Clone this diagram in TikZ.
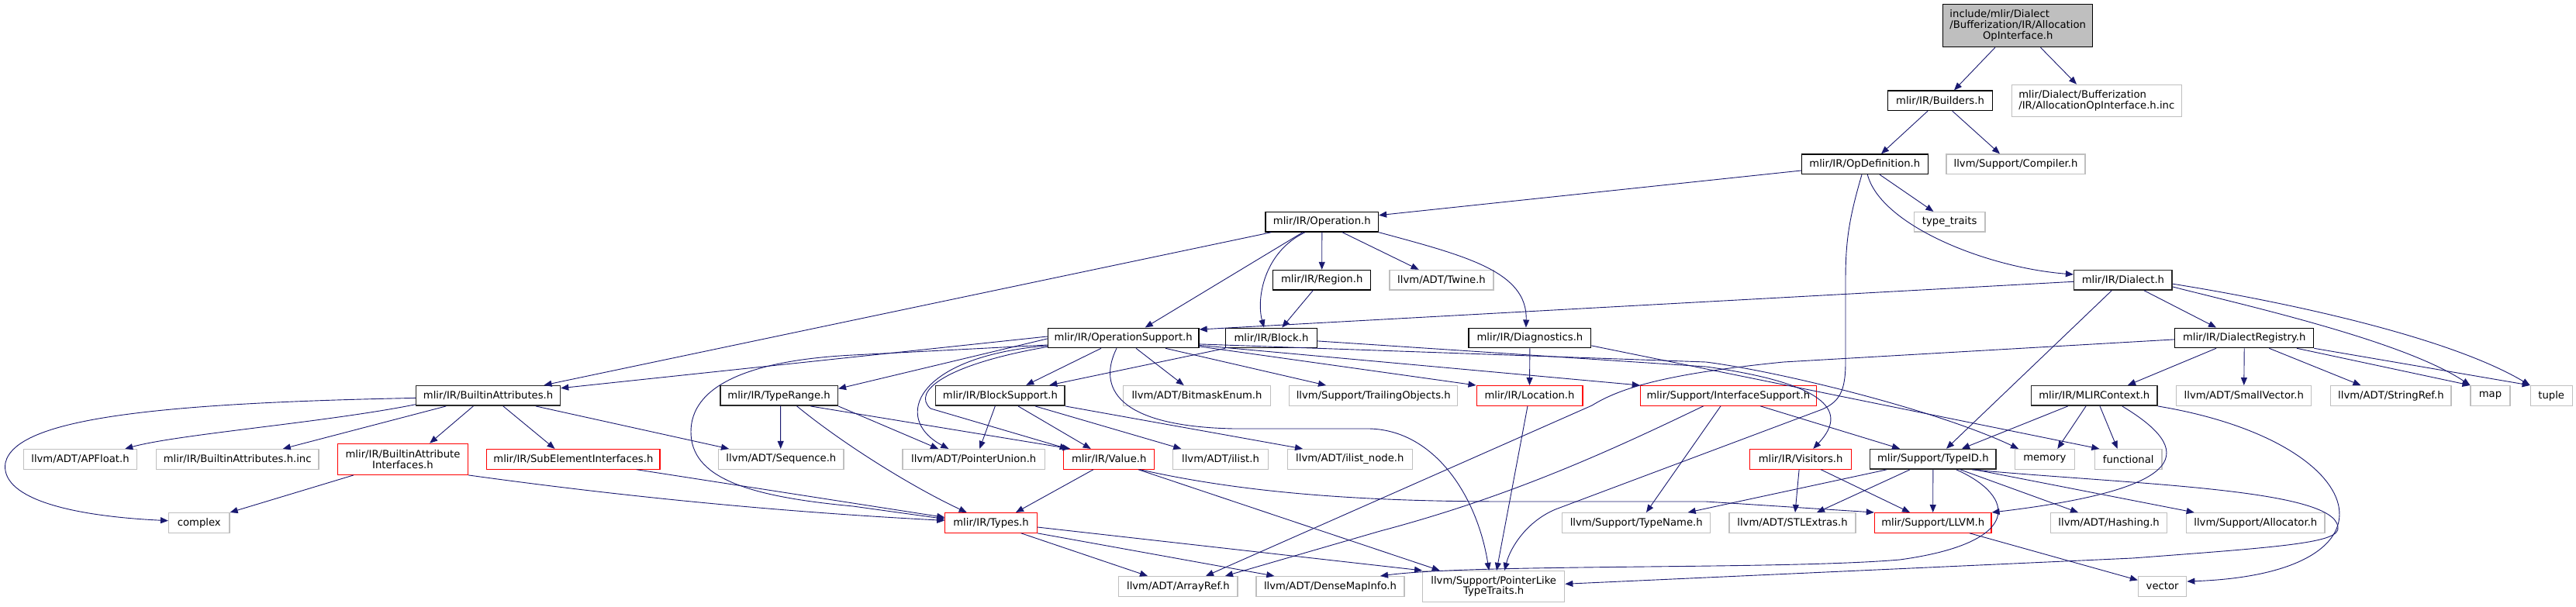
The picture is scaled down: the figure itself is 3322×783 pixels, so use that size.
\documentclass[tikz,border=0pt]{standalone}
\usepackage{fontspec}
\setmainfont{DejaVu Sans}
\usetikzlibrary{arrows.meta,positioning}
\definecolor{edgeBlue}{RGB}{25,25,112}
\definecolor{rootGray}{RGB}{191,191,191}
\definecolor{sysBorder}{RGB}{191,191,191}
\definecolor{linkBorder}{RGB}{40,40,40}
\definecolor{cutRed}{RGB}{255,0,0}
\newcommand{\dotfont}{\fontsize{13.2}{13.6}\selectfont}
\tikzset{
  filebox/.style={draw=#1, fill=white, line width=1.2pt, inner xsep=0pt, inner ysep=0pt,
    minimum height=25.6pt, align=center, font=\dotfont},
  hbox/.style={filebox=black},
  lbox/.style={filebox=linkBorder, line width=1.5pt},
  gbox/.style={filebox=sysBorder},
  rbox/.style={filebox=cutRed},
  topbox/.style={filebox=black, fill=rootGray, minimum height=55pt},
  arr/.style={-{Triangle[length=10pt,width=8pt]}, line width=0.9pt, color=edgeBlue},
}

\begin{document}
\begin{tikzpicture}[x=1pt, y=-1pt]

\fill[white] (0,0) rectangle (3322,783);
\useasboundingbox (0,0) rectangle (3322,783);

%% ROOT
\node[topbox, minimum width=193.2pt] (top) at (2602.2,33.2)
  {\begin{tabular}{@{}l@{}}include/mlir/Dialect\\/Bufferization/IR/Allocation\\\multicolumn{1}{@{}c@{}}{OpInterface.h}\end{tabular}};

%% ROW 1
\node[hbox, minimum width=134.6pt] (builders) at (2502,129.8) {mlir/IR/Builders.h};
\node[gbox, minimum width=219pt, minimum height=41pt, align=left] (allocInc) at (2703.8,129.8)
  {mlir/Dialect/Bufferization\\/IR/AllocationOpInterface.h.inc};

%% ROW 2
\node[hbox, minimum width=162.6pt] (opDef) at (2404.8,211.8) {mlir/IR/OpDefinition.h};
\node[gbox, minimum width=179pt] (compiler) at (2599.5,211.8) {llvm/Support/Compiler.h};

%% ROW 3
\node[hbox, minimum width=145.5pt] (operation) at (1704.8,286.3) {mlir/IR/Operation.h};
\node[gbox, minimum width=91.8pt] (typeTraits) at (2514.1,286.3) {type\_traits};

%% ROW 4
\node[hbox, minimum width=126pt] (region) at (1704.7,361.2) {mlir/IR/Region.h};
\node[gbox, minimum width=134pt] (twine) at (1859,361.2) {llvm/ADT/Twine.h};
\node[lbox, minimum width=126.6pt] (dialect) at (2737.9,361.2) {mlir/IR/Dialect.h};

%% ROW 5
\node[hbox, minimum width=194.7pt] (opSupport) at (1448.7,435.9) {mlir/IR/OperationSupport.h};
\node[hbox, minimum width=117.4pt] (block) at (1639.5,435.9) {mlir/IR/Block.h};
\node[hbox, minimum width=157.7pt] (diagnostics) at (1972.9,435.9) {mlir/IR/Diagnostics.h};
\node[hbox, minimum width=178.9pt] (dialectReg) at (2894.2,435.9) {mlir/IR/DialectRegistry.h};

%% ROW 6
\node[lbox, minimum width=185.8pt] (builtinAttr) at (629.6,510.4) {mlir/IR/BuiltinAttributes.h};
\node[lbox, minimum width=151.5pt] (typeRange) at (1004.6,510.4) {mlir/IR/TypeRange.h};
\node[lbox, minimum width=166.4pt] (blockSupport) at (1289.9,510.4) {mlir/IR/BlockSupport.h};
\node[gbox, minimum width=189.5pt] (bitmask) at (1543.5,510.4) {llvm/ADT/BitmaskEnum.h};
\node[gbox, minimum width=217pt] (trailing) at (1771.2,510.4) {llvm/Support/TrailingObjects.h};
\node[rbox, minimum width=136.8pt] (location) at (1972.5,510.4) {mlir/IR/Location.h};
\node[rbox, minimum width=227pt] (ifaceSupport) at (2228.8,510.4) {mlir/Support/InterfaceSupport.h};
\node[lbox, minimum width=162.5pt] (mlirContext) at (2700.8,510.4) {mlir/IR/MLIRContext.h};
\node[gbox, minimum width=173.9pt] (smallVector) at (2893.8,510.4) {llvm/ADT/SmallVector.h};
\node[gbox, minimum width=155.2pt] (stringRef) at (3083.4,510.4) {llvm/ADT/StringRef.h};
\node[gbox, minimum width=51pt] (stdMap) at (3211.5,510.4) {map};
\node[gbox, minimum width=54pt, right=25pt of stdMap] (stdTuple) {tuple};

%% ROW 7
\node[gbox, minimum width=146.6pt] (apFloat) at (103.5,592.3) {llvm/ADT/APFloat.h};
\node[gbox, minimum width=209.7pt] (attrInc) at (306.2,592.3) {mlir/IR/BuiltinAttributes.h.inc};
\node[rbox, minimum width=167.7pt, minimum height=40pt] (attrIfaces) at (519.5,592.3)
  {mlir/IR/BuiltinAttribute\\Interfaces.h};
\node[rbox, minimum width=223.2pt] (subElem) at (739.4,592.3) {mlir/IR/SubElementInterfaces.h};
\node[gbox, minimum width=161.3pt] (sequence) at (1007.4,592.3) {llvm/ADT/Sequence.h};
\node[gbox, minimum width=183.3pt] (ptrUnion) at (1255.7,592.3) {llvm/ADT/PointerUnion.h};
\node[rbox, minimum width=117.2pt] (value) at (1430.2,592.3) {mlir/IR/Value.h};
\node[gbox, minimum width=122.9pt] (ilist) at (1574,592.3) {llvm/ADT/ilist.h};
\node[gbox, minimum width=160.9pt] (ilistNode) at (1740.8,592.3) {llvm/ADT/ilist\_node.h};
\node[rbox, minimum width=131pt] (visitors) at (2322.1,592.3) {mlir/IR/Visitors.h};
\node[lbox, minimum width=162.5pt] (typeID) at (2492.8,592.3) {mlir/Support/TypeID.h};
\node[gbox, minimum width=77pt] (memory) at (2636.8,592.3) {memory};
\node[gbox, minimum width=86.6pt, right=24.9pt of memory] (functional) {functional};

%% ROW 8
\node[gbox, minimum width=78.5pt] (complex) at (256.8,674.4) {complex};
\node[rbox, minimum width=118.4pt] (types) at (1278,674.4) {mlir/IR/Types.h};
\node[gbox, minimum width=190.7pt] (typeName) at (2110.2,674.4) {llvm/Support/TypeName.h};
\node[gbox, minimum width=163pt] (stlExtras) at (2311.5,674.4) {llvm/ADT/STLExtras.h};
\node[rbox, minimum width=150.6pt] (llvmH) at (2492.7,674.4) {mlir/Support/LLVM.h};
\node[gbox, minimum width=150.3pt] (hashing) at (2719.6,674.4) {llvm/ADT/Hashing.h};
\node[gbox, minimum width=178.2pt] (allocator) at (2908.8,674.4) {llvm/Support/Allocator.h};

%% ROW 9
\node[gbox, minimum width=153.2pt] (arrayRef) at (1519.4,756.4) {llvm/ADT/ArrayRef.h};
\node[gbox, minimum width=191pt] (denseMap) at (1715.5,756.4) {llvm/ADT/DenseMapInfo.h};
\node[gbox, minimum width=183.1pt, minimum height=40pt] (ptrLike) at (1926.2,756.5)
  {llvm/Support/PointerLike\\TypeTraits.h};
\node[gbox, minimum width=62.3pt] (vector) at (2788.6,756.4) {vector};

%% ARROWS - upper part
\draw[arr] ([xshift=-29.4pt]top.south) -- ([xshift=18pt]builders.north);
\draw[arr] ([xshift=29.3pt]top.south) -- ([xshift=-25.8pt]allocInc.north);
\draw[arr] ([xshift=-16pt]builders.south) -- ([xshift=21.2pt]opDef.north);
\draw[arr] ([xshift=15.7pt]builders.south) -- ([xshift=-20.5pt]compiler.north);
\draw[arr] ([yshift=-8.2pt]opDef.west) -- ([yshift=8.6pt]operation.east);
\draw[arr] ([xshift=19.2pt]opDef.south) -- ([xshift=-20.7pt]typeTraits.north);
\draw[arr] ([xshift=3.5pt]opDef.south) .. controls (2425,290) and (2560,345) .. ([yshift=7.2pt]dialect.west);
\draw[arr] ([xshift=-3.8pt]opDef.south) .. controls (2385,280) and (2380,310) .. (2380,360)
  -- (2380,467) .. controls (2380,505) and (2372,518) .. (2350,528)
  -- (2006,657) .. controls (1970,672) and (1948,705) .. ([xshift=14pt]ptrLike.north);

\draw[arr] ([xshift=8pt]operation.south west) -- ([xshift=71.9pt]builtinAttr.north);
\draw[arr] ([xshift=-24.8pt]operation.south) -- ([xshift=28pt]opSupport.north);
\draw[arr] ([xshift=-21.8pt]operation.south) .. controls (1630,325) and (1620,385) .. ([xshift=-9.5pt]block.north);
\draw[arr] (operation.south) -- (region.north);
\draw[arr] ([xshift=26.2pt]operation.south) -- ([xshift=-29.4pt]twine.north);
\draw[arr] (operation.south east) .. controls (1890,330) and (1970,350) .. ([xshift=-5pt]diagnostics.north);
\draw[arr] ([xshift=-11.4pt]region.south) -- ([xshift=13.8pt]block.north);

\draw[arr] ([yshift=-2.1pt]dialect.west) -- ([yshift=10.9pt]opSupport.east);
\draw[arr] ([xshift=-14.6pt]dialect.south) -- ([xshift=17.2pt]typeID.north);
\draw[arr] ([xshift=27pt]dialect.south) -- ([xshift=-36.2pt]dialectReg.north);
\draw[arr] ([yshift=-8.8pt]dialect.east) .. controls (2900,395) and (3100,440) .. (stdMap.north west);
\draw[arr] ([yshift=-5pt]dialect.east) .. controls (2920,385) and (3150,430) .. (stdTuple.north west);

\draw[arr] ([xshift=-36.2pt]dialectReg.south) -- ([xshift=43.2pt]mlirContext.north);
\draw[arr] (dialectReg.south) -- (smallVector.north);
\draw[arr] ([xshift=32.1pt]dialectReg.south) -- ([xshift=-39pt]stringRef.north);
\draw[arr] ([xshift=67.8pt]dialectReg.south) -- (stdMap.north west);
\draw[arr] (dialectReg.south east) -- (stdTuple.north west);
\draw[arr] ([yshift=-2pt]dialectReg.west) -- (2300,467) .. controls (2150,482) and (2090,500) .. (2053,523)
  -- ([xshift=35.6pt]arrayRef.north);

%% ARROWS - OperationSupport
\draw[arr] ([yshift=1.9pt]opSupport.west) -- ([yshift=9.7pt]builtinAttr.east);
\draw[arr] ([yshift=-1pt]opSupport.west) -- ([yshift=9pt]typeRange.east);
\draw[arr] ([yshift=-9.1pt]opSupport.west) -- (1100,458) .. controls (960,465) and (891,500) .. (891,557)
  .. controls (891,615) and (960,640) .. (1100,653) -- ([yshift=5pt]types.west);
\draw[arr] ([xshift=-28.7pt]opSupport.south) -- ([xshift=33.4pt]blockSupport.north);
\draw[arr] (block.south west) -- ([xshift=63.4pt]blockSupport.north);
\draw[arr] ([xshift=16.3pt]opSupport.south) -- ([xshift=-16.8pt]bitmask.north);
\draw[arr] ([xshift=54.3pt]opSupport.south) -- ([xshift=-61.2pt]trailing.north);
\draw[arr] ([yshift=-11pt]opSupport.east) -- (location.north west);
\draw[arr] ([yshift=-9.5pt]opSupport.east) -- (ifaceSupport.north west);
\draw[arr] ([yshift=-8pt]opSupport.east) -- (2200,467) .. controls (2300,480) and (2500,530) .. ([xshift=-33.8pt]memory.north);
\draw[arr] ([yshift=-10pt]opSupport.west) .. controls (1180,460) and (1150,540) .. ([xshift=-32.4pt]ptrUnion.north);
\draw[arr] ([yshift=-11.5pt]opSupport.west) .. controls (1220,470) and (1175,505) .. (1200,527)
  -- ([xshift=-53.5pt]value.north);
\draw[arr] ([xshift=-8.7pt]opSupport.south) .. controls (1415,500) and (1440,550) .. (1591,553)
  -- (1766,553) .. controls (1850,555) and (1905,640) .. ([xshift=-6pt]ptrLike.north);

%% ARROWS - middle
\draw[arr] (diagnostics.south) -- (location.north);
\draw[arr] ([yshift=-10pt]diagnostics.east) -- ([xshift=6.5pt]functional.north west);
\draw[arr] ([xshift=-2.5pt]location.south) -- ([xshift=3.8pt]ptrLike.north);
\draw[arr] ([xshift=41.2pt]ifaceSupport.south) -- ([xshift=-42.8pt]typeID.north);
\draw[arr] ([xshift=-9.8pt]ifaceSupport.south) -- ([xshift=12.8pt]typeName.north);
\draw[arr] ([xshift=-32.1pt]ifaceSupport.south) .. controls (2080,580) and (1950,640) .. (1780,685)
  -- ([xshift=60.6pt]arrayRef.north);
\draw[arr] ([yshift=-4pt]block.east) -- (2200,473) .. controls (2380,498) and (2375,540) .. ([xshift=16.2pt]visitors.north);

\draw[arr] ([xshift=-6.6pt]blockSupport.south) -- ([xshift=7.6pt]ptrUnion.north);
\draw[arr] ([xshift=23.1pt]blockSupport.south) -- ([xshift=-23.5pt]value.north);
\draw[arr] ([xshift=45.1pt]blockSupport.south) -- ([xshift=-50.7pt]ilist.north);
\draw[arr] (blockSupport.south east) -- ([xshift=-60.8pt]ilistNode.north);

\draw[arr] ([xshift=2pt]typeRange.south) -- ([xshift=-0.7pt]sequence.north);
\draw[arr] (typeRange.south east) -- ([xshift=-45.7pt]ptrUnion.north);
\draw[arr] ([xshift=40.7pt]typeRange.south) -- ([xshift=-50pt]value.north);
\draw[arr] ([xshift=23.1pt]typeRange.south) .. controls (1090,575) and (1180,630) .. ([xshift=-31.3pt]types.north);

%% ARROWS - BuiltinAttributes
\draw[arr] ([yshift=-11.3pt]builtinAttr.west) .. controls (420,545) and (230,560) .. ([xshift=57.8pt]apFloat.north);
\draw[arr] ([xshift=-54.4pt]builtinAttr.south) -- ([xshift=58.6pt]attrInc.north);
\draw[arr] ([xshift=-19.3pt]builtinAttr.south) -- ([xshift=34.7pt]attrIfaces.north);
\draw[arr] ([xshift=19.3pt]builtinAttr.south) -- ([xshift=-23.9pt]subElem.north);
\draw[arr] ([xshift=61.4pt]builtinAttr.south) -- ([xshift=-67.4pt]sequence.north);
\draw[arr] ([yshift=-3pt]builtinAttr.west) .. controls (200,520) and (20,540) .. (7,597)
  .. controls (0,640) and (80,665) .. ([yshift=2.7pt]complex.west);
\draw[arr] ([xshift=-63.5pt]attrIfaces.south) -- (complex.north east);
\draw[arr] (attrIfaces.south east) .. controls (800,640) and (1000,660) .. ([yshift=3pt]types.west);
\draw[arr] ([xshift=81.4pt]subElem.south) -- ([yshift=7pt]types.west);

%% ARROWS - lower part
\draw[arr] ([xshift=-20.2pt]value.south) -- ([xshift=32pt]types.north);
\draw[arr] ([xshift=37.8pt]value.south) -- ([xshift=-69.5pt]ptrLike.north);
\draw[arr] ([xshift=40pt]value.south) .. controls (1600,635) and (1750,647) .. (1942,647)
  -- (2200,647) -- (llvmH.north west);
\draw[arr] ([xshift=38.7pt]types.south) -- ([xshift=-39.4pt]arrayRef.north);
\draw[arr] (types.south east) -- ([xshift=-72.2pt]denseMap.north);
\draw[arr] ([yshift=-5.6pt]types.east) -- (ptrLike.north west);

\draw[arr] ([xshift=-2pt]visitors.south) -- ([xshift=3.5pt]stlExtras.north);
\draw[arr] ([xshift=26pt]visitors.south) -- ([xshift=-29.7pt]llvmH.north);
\draw[arr] (typeID.south) -- (llvmH.north);
\draw[arr] ([xshift=-29.8pt]typeID.south) -- ([xshift=31.5pt]stlExtras.north);
\draw[arr] ([xshift=-59.8pt]typeID.south) -- ([xshift=66.5pt]typeName.north);
\draw[arr] ([xshift=35.2pt]typeID.south) -- ([xshift=-39.6pt]hashing.north);
\draw[arr] ([xshift=54.2pt]typeID.south) -- ([xshift=-79.1pt]allocator.north);
\draw[arr] ([xshift=30pt]typeID.south) .. controls (2600,640) and (2610,700) .. (2450,722)
  .. controls (2300,735) and (1900,727) .. ([xshift=64.5pt]denseMap.north);
\draw[arr] ([xshift=50pt]typeID.south) .. controls (2750,625) and (3010,630) .. (3015,680)
  .. controls (3018,700) and (2950,705) .. (2750,720) -- ([yshift=3.2pt]ptrLike.east);

\draw[arr] ([xshift=-34.1pt]mlirContext.south) -- ([xshift=37.2pt]typeID.north);
\draw[arr] ([xshift=-10.8pt]mlirContext.south) -- ([xshift=16.5pt]memory.north);
\draw[arr] ([xshift=7.2pt]mlirContext.south) -- ([xshift=-14pt]functional.north);
\draw[arr] ([xshift=35.9pt]mlirContext.south) .. controls (2830,580) and (2830,630) .. (llvmH.north east);
\draw[arr] (mlirContext.south east) .. controls (3060,570) and (3110,740) .. ([yshift=6.4pt]vector.east);
\draw[arr] ([xshift=47.3pt]llvmH.south) -- ([yshift=8pt]vector.west);

\end{tikzpicture}
\end{document}
